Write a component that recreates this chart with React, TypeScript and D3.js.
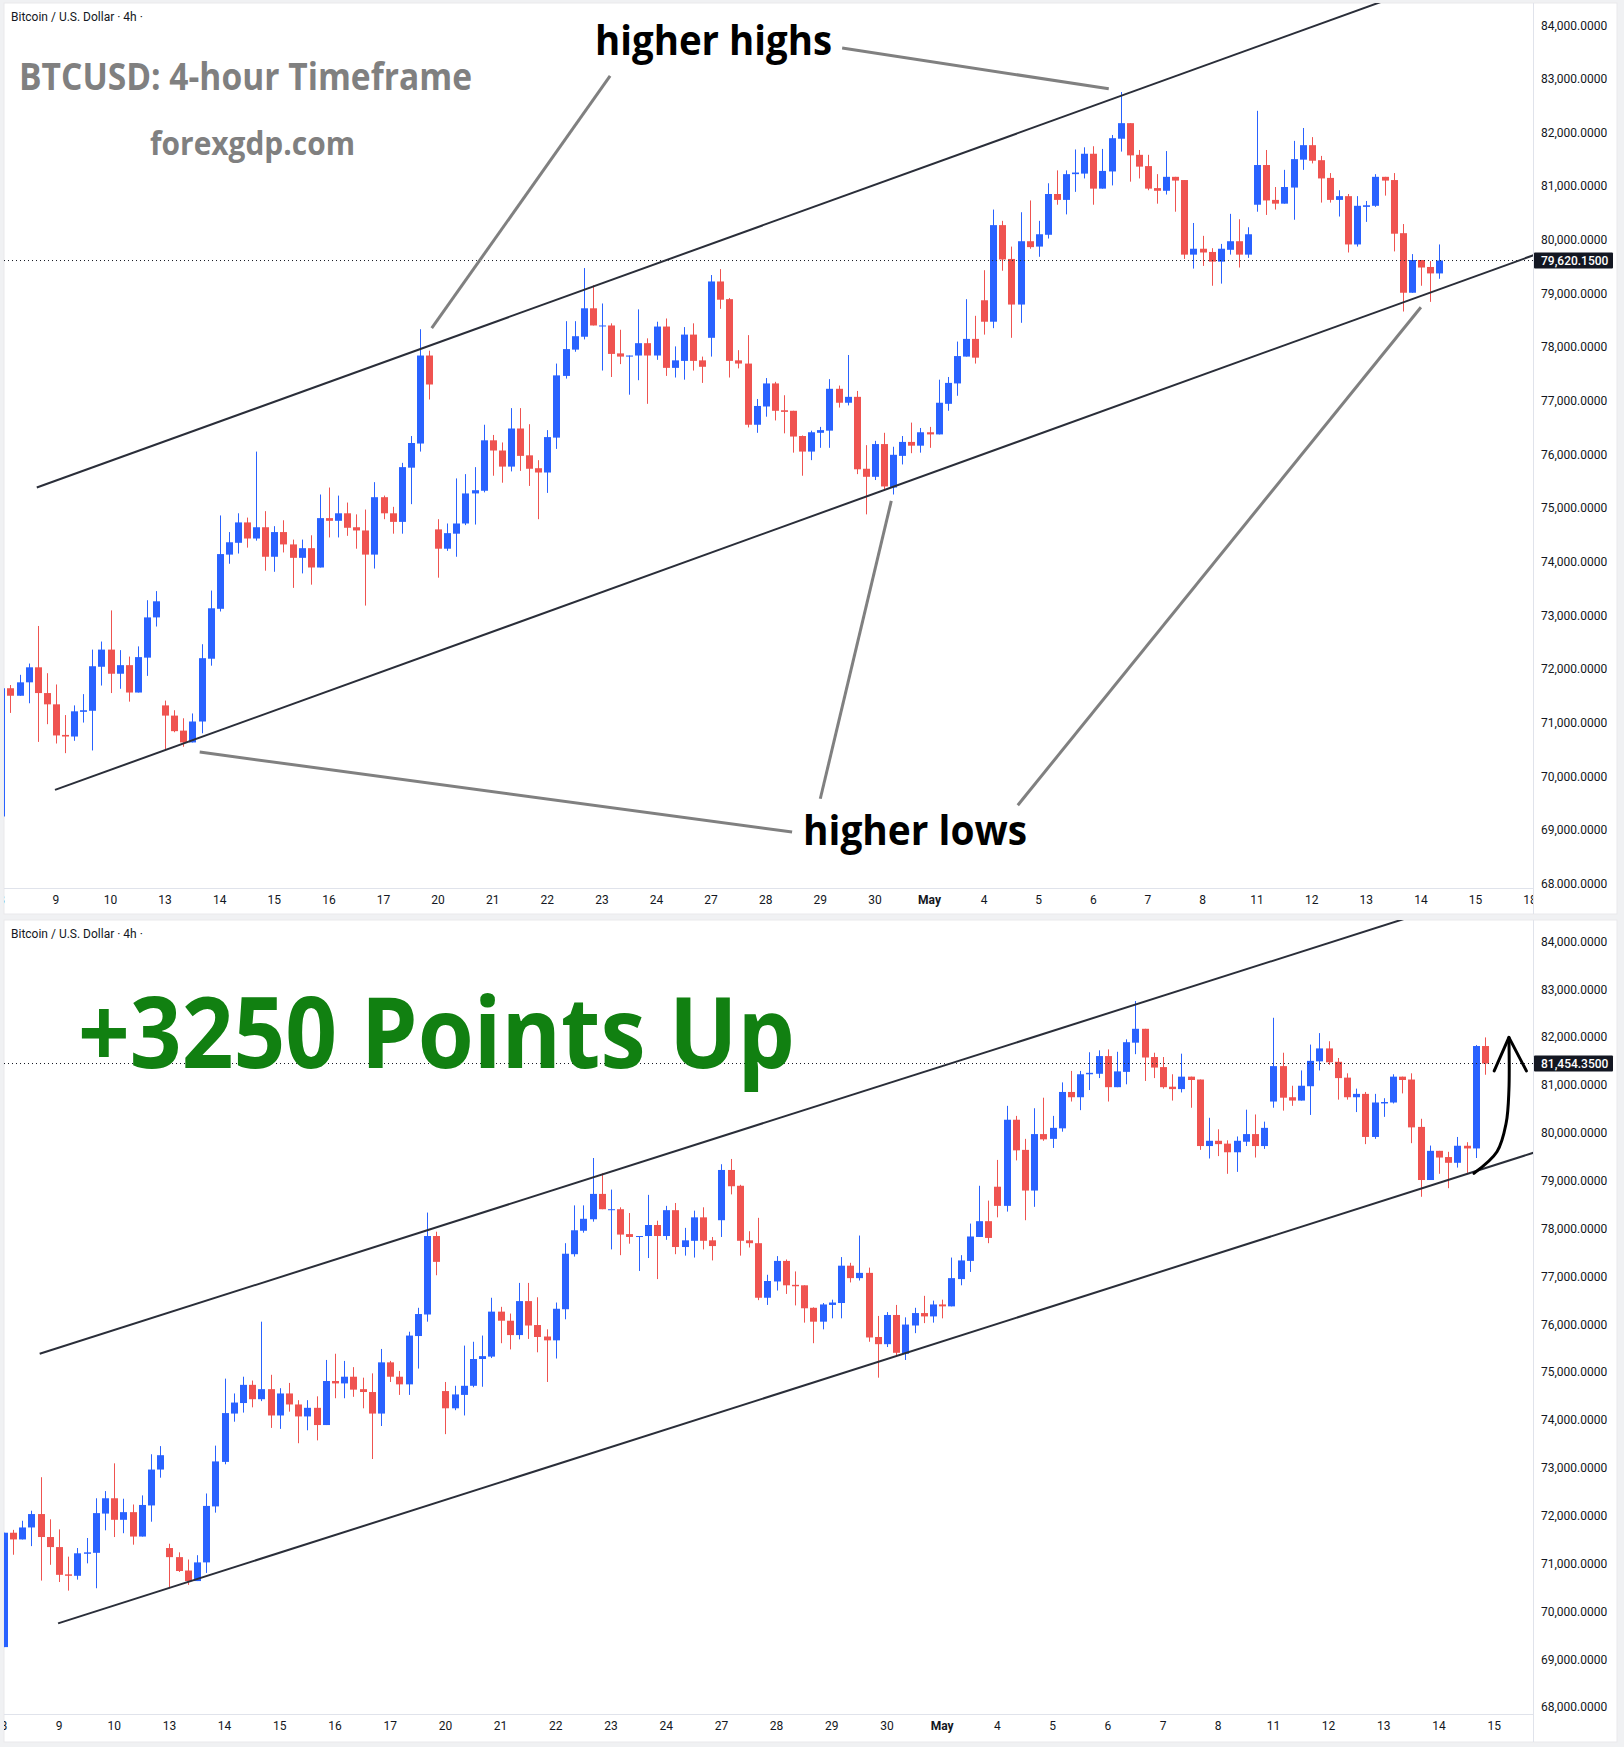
import * as d3 from 'd3';

// day labels on the time axis, one every 6 bars (4h bars)
const DAYS = ['8', '9', '10', '13', '14', '15', '16', '17', '20', '21', '22', '23', '24', '27', '28', '29', '30', 'May', '4', '5', '6', '7', '8', '11', '12', '13', '14', '15', '18'];
const BARS_PER_DAY = 6;

// BTCUSD 4h candles
const OPEN = [
  69260, 71650, 71510, 71760, 72040, 71560, 71350, 70780, 70750, 71210,
  71230, 72050, 72370, 71920, 72080, 71570, 72220, 72970, 71330, 71140,
  70860, 70640, 71030, 72200, 73130, 74140, 74360, 74740, 74440, 74650,
  74100, 74560, 74330, 74080, 74260, 73900, 74820, 74770, 74910, 74650,
  74590, 74140, 75210, 74910, 74750, 75760, 76210, 77850, 74610, 74250,
  74530, 74720, 75280, 75330, 76270, 76080, 75780, 76490, 75990, 75750,
  75670, 76320, 77470, 77960, 78200, 78730, 78400, 78410, 77890, 77830,
  77850, 78080, 77850, 78390, 77620, 77750, 78240, 77760, 78180, 79230,
  78900, 77760, 77700, 76560, 76900, 77330, 76830, 76820, 76350, 76060,
  76410, 76450, 77230, 76970, 77080, 75740, 75590, 76200, 75390, 75980,
  76240, 76170, 76420, 76380, 76950, 77330, 77830, 78160, 78880, 78480,
  80280, 79650, 78800, 79980, 79880, 80100, 80860, 80750, 81230, 81240,
  81610, 80960, 81280, 81890, 82180, 81590, 81380, 80970, 80920, 81180,
  81120, 79730, 79840, 79780, 79600, 79820, 79980, 79730, 80660, 81400,
  80750, 80680, 80980, 81500, 81770, 81490, 81160, 80750, 80820, 79920,
  80620, 80640, 81180, 81120, 80130, 79020, 79630, 79500, 79380, 79736,
  79680, 81820,
];
const HIGH = [
  71650, 71710, 71900, 72110, 72810, 71930, 71720, 71150, 71330, 71540,
  72370, 72520, 73100, 72360, 72240, 72430, 73290, 73460, 71420, 71240,
  71090, 71180, 72470, 73470, 74870, 74560, 74910, 74830, 76060, 74950,
  74670, 74780, 74420, 74420, 74500, 75260, 75390, 75240, 75110, 74890,
  74980, 75490, 75240, 75030, 75850, 76350, 78340, 77940, 74800, 74720,
  75560, 75640, 75770, 76560, 76370, 76230, 76870, 76870, 76570, 75900,
  76460, 77700, 78490, 78490, 79480, 79160, 78820, 78450, 78330, 77850,
  78710, 78170, 78480, 78540, 78020, 78380, 78450, 77830, 79350, 79460,
  78920, 77950, 78230, 77040, 77430, 77360, 77110, 76820, 76360, 76450,
  76520, 77410, 77290, 77860, 77190, 76180, 76260, 76410, 76150, 76350,
  76600, 76500, 76520, 77400, 77450, 78110, 78900, 78590, 79440, 80570,
  80360, 79880, 80520, 80740, 80360, 81060, 81300, 81300, 81690, 81730,
  81750, 81700, 81960, 82760, 82180, 81680, 81590, 81230, 81660, 81180,
  81120, 80320, 80080, 79850, 79930, 80490, 80390, 80240, 82410, 81680,
  80990, 81310, 81850, 82090, 81920, 81570, 81250, 80930, 80860, 80820,
  80730, 81230, 81180, 81250, 80300, 79740, 79630, 79610, 79920, 79810,
  81840, 82000,
];
const LOW = [
  69260, 71190, 71510, 71370, 70650, 70980, 70620, 70440, 70670, 71010,
  70490, 71700, 71560, 71640, 71400, 71570, 71880, 72800, 70490, 70830,
  70560, 70640, 70810, 72070, 73080, 73970, 74160, 74270, 74400, 73840,
  73820, 74180, 73520, 73790, 73580, 73900, 74460, 74460, 74490, 74250,
  73190, 73880, 74800, 74530, 74530, 75080, 76060, 77030, 73710, 74210,
  74100, 74690, 74700, 75300, 75610, 75480, 75690, 75700, 75420, 74800,
  75290, 76110, 77420, 77920, 78150, 78410, 77570, 77450, 77690, 77120,
  77390, 76950, 77770, 77470, 77440, 77400, 77570, 77340, 77830, 78720,
  77440, 77610, 76510, 76410, 76710, 76640, 76400, 76040, 75610, 75900,
  76130, 76130, 76880, 76920, 75640, 74890, 75530, 75330, 75260, 75820,
  76030, 76040, 76130, 76380, 76820, 77100, 77830, 77700, 78240, 78360,
  79430, 78180, 78460, 79840, 79690, 80030, 80660, 80480, 80900, 81150,
  80660, 80960, 81020, 81650, 81090, 81150, 80930, 80680, 80850, 80530,
  79650, 79470, 79520, 79150, 79190, 79730, 79490, 79670, 80530, 80470,
  80570, 80680, 80380, 81310, 81430, 80700, 80700, 80440, 79770, 79880,
  80340, 80620, 80830, 79790, 78670, 79020, 79150, 78850, 79280, 79170,
  79480, 81220,
];
const CLOSE = [
  71650, 71510, 71760, 72040, 71560, 71350, 70770, 70750, 71220, 71240,
  72060, 72370, 71920, 72080, 71570, 72230, 72970, 73270, 71140, 70850,
  70640, 71030, 72210, 73140, 74150, 74370, 74740, 74440, 74650, 74100,
  74560, 74330, 74080, 74260, 73900, 74820, 74770, 74910, 74640, 74590,
  74140, 75210, 74910, 74750, 75770, 76220, 77850, 77310, 74250, 74540,
  74720, 75280, 75340, 76270, 76080, 75780, 76490, 75980, 75740, 75670,
  76330, 77480, 77970, 78210, 78730, 78410, 78410, 77880, 77830, 77850,
  78080, 77850, 78390, 77620, 77760, 78240, 77750, 77640, 79230, 78890,
  77750, 77700, 76560, 76910, 77330, 76820, 76800, 76340, 76060, 76420,
  76460, 77230, 76970, 77080, 75730, 75590, 76200, 75410, 76000, 76240,
  76170, 76420, 76380, 76970, 77340, 77840, 78160, 77810, 78480, 80280,
  79640, 78800, 79980, 79870, 80110, 80860, 80750, 81230, 81260, 81610,
  80960, 81290, 81900, 82180, 81580, 81370, 80960, 80920, 81180, 81110,
  79730, 79840, 79770, 79600, 79840, 79980, 79730, 80110, 81400, 80740,
  80680, 80990, 81510, 81770, 81480, 81150, 80750, 80820, 79920, 80640,
  80650, 81180, 81110, 80120, 79020, 79630, 79490, 79380, 79736, 79680,
  81820, 81454.35,
];

// the upper snapshot was taken while bar 158 was still live
const TOP_BARS = 159;
const TOP_LAST = 79620.15;
const BOTTOM_LAST = 81454.35;

const PRICE_TICKS = [68000, 69000, 70000, 71000, 72000, 73000, 74000, 75000, 76000, 77000, 78000, 79000, 80000, 81000, 82000, 83000, 84000];

// channel lines as [bar index, price] pairs
const CHANNEL_UPPER = [[3.9, 75390], [151.3, 84420]];
const CHANNEL_LOWER = [[5.9, 69755], [167.9, 79690]];

// gray pointer lines in the upper panel
const POINTERS = [
  [[66.9, 83060], [47.3, 78360]],
  [[92.4, 83580], [121.7, 82820]],
  [[86.9, 68970], [21.8, 70460]],
  [[90.0, 69590], [97.8, 75140]],
  [[111.7, 69470], [156.0, 78750]],
];

// hand drawn arrow in the lower panel
const ARROW_STEM = [[159.8, 79160], [162.3, 79610], [163.3, 80210], [163.6, 80900], [163.6, 82000]];
const ARROW_HEAD = [[162.0, 81300], [163.6, 82000], [165.5, 81300]];

const BLUE = '#2962ff';
const RED = '#ef5350';
const TEXT = '#131722';
const AXIS_LINE = '#e0e3eb';
const PLOT_LEFT = 4;
const PLOT_RIGHT = 1533;
const fmt = d3.format(',.4f');

interface PanelSpec {
  id: string;
  top: number;
  bottom: number;
  axisY: number;
  yRange: [number, number];
  x0: number;
  step: number;
  n: number;
  last: number;
}

const PANELS: PanelSpec[] = [
  { id: 'a', top: 3, bottom: 914, axisY: 888, yRange: [884.1, 25.5], x0: 1.3, step: 9.1, n: TOP_BARS, last: TOP_LAST },
  { id: 'b', top: 920, bottom: 1742, axisY: 1714, yRange: [1707.4, 941.7], x0: 3.8, step: 9.2, n: OPEN.length, last: BOTTOM_LAST },
];

function Panel({ p, children }: { p: PanelSpec; children?: (x: any, y: any) => any }) {
  const x = d3.scaleLinear().domain([0, 1]).range([p.x0, p.x0 + p.step]);
  const y = d3.scaleLinear().domain([68000, 84000]).range(p.yRange);
  const line = d3.line<number[]>().x((d) => x(d[0])).y((d) => y(d[1]));

  const ray = (pts: number[][]) => {
    const m = (pts[1][1] - pts[0][1]) / (pts[1][0] - pts[0][0]);
    const end = 200;
    return line([pts[0], [end, pts[0][1] + m * (end - pts[0][0])]]);
  };

  const lastY = y(p.last);

  return (
    <g>
      <rect x={PLOT_LEFT} y={p.top} width={1617 - PLOT_LEFT} height={p.bottom - p.top} fill="#fff" stroke="#e9e9ec" />
      <defs>
        <clipPath id={`plot-${p.id}`}>
          <rect x={PLOT_LEFT} y={p.top} width={PLOT_RIGHT - PLOT_LEFT} height={p.axisY - p.top} />
        </clipPath>
        <clipPath id={`time-${p.id}`}>
          <rect x={PLOT_LEFT} y={p.axisY} width={PLOT_RIGHT - PLOT_LEFT} height={p.bottom - p.axisY} />
        </clipPath>
        <clipPath id={`price-${p.id}`}>
          <rect x={PLOT_RIGHT} y={p.top} width={1617 - PLOT_RIGHT} height={p.axisY - p.top} />
        </clipPath>
      </defs>

      <g clipPath={`url(#plot-${p.id})`}>
        {d3.range(p.n).map((i) => {
          const o = OPEN[i];
          const c = i === p.n - 1 ? p.last : CLOSE[i];
          const h = Math.max(HIGH[i], o, c);
          const l = Math.min(LOW[i], o, c);
          const col = c >= o ? BLUE : RED;
          const cx = Math.round(x(i));
          const yt = y(Math.max(o, c));
          const yb = y(Math.min(o, c));
          return (
            <g key={i}>
              <line x1={cx + 0.5} x2={cx + 0.5} y1={y(h)} y2={y(l)} stroke={col} strokeWidth={1} />
              <rect x={cx - 3} y={yt} width={7} height={Math.max(1, yb - yt)} fill={col} />
            </g>
          );
        })}

        <line x1={PLOT_LEFT} x2={PLOT_RIGHT} y1={lastY} y2={lastY} stroke={TEXT} strokeWidth={1} strokeDasharray="1 3" />

        <path d={ray(CHANNEL_UPPER) ?? ''} stroke="#2a2e39" strokeWidth={2} fill="none" />
        <path d={ray(CHANNEL_LOWER) ?? ''} stroke="#2a2e39" strokeWidth={2} fill="none" />

        {children && children(x, y)}
      </g>

      {/* axes */}
      <line x1={PLOT_LEFT} x2={PLOT_RIGHT} y1={p.axisY + 0.5} y2={p.axisY + 0.5} stroke={AXIS_LINE} />
      <line x1={PLOT_RIGHT + 0.5} x2={PLOT_RIGHT + 0.5} y1={p.top} y2={p.bottom} stroke={AXIS_LINE} />

      <g clipPath={`url(#time-${p.id})`} fontFamily="Roboto, sans-serif" fontSize={12} fill={TEXT} textAnchor="middle">
        {DAYS.map((d, k) => (
          <text key={k} x={x(k * BARS_PER_DAY)} y={p.axisY + 16} fontWeight={d === 'May' ? 700 : 400}>
            {d}
          </text>
        ))}
      </g>

      <g clipPath={`url(#price-${p.id})`} fontFamily="Roboto, sans-serif" fontSize={12} fill={TEXT}>
        {PRICE_TICKS.map((t) => (
          <text key={t} x={1541} y={y(t) + 4}>
            {fmt(t)}
          </text>
        ))}
        <rect x={PLOT_RIGHT + 1} y={lastY - 8} width={79} height={16} rx={1} fill={TEXT} />
        <text x={1541} y={lastY + 4} fill="#fff" fontWeight={500}>
          {fmt(p.last)}
        </text>
      </g>

      <text x={11} y={p.top + 18} fontFamily="Roboto, sans-serif" fontSize={12} fill={TEXT}>
        Bitcoin / U.S. Dollar · 4h ·
      </text>
    </g>
  );
}

export default function App() {
  return (
    <div style={{ position: 'absolute', left: 0, top: 0 }}>
      <svg width={1624} height={1747} style={{ display: 'block' }}>
        <rect width={1624} height={1747} fill="#f0f1f3" />

        <Panel p={PANELS[0]}>
          {(x, y) => {
            const line = d3.line<number[]>().x((d) => x(d[0])).y((d) => y(d[1]));
            return (
              <g>
                {POINTERS.map((pts, i) => (
                  <path key={i} d={line(pts) ?? ''} stroke="#808080" strokeWidth={3} fill="none" />
                ))}
              </g>
            );
          }}
        </Panel>

        <Panel p={PANELS[1]}>
          {(x, y) => {
            const stem = d3.line<number[]>().x((d) => x(d[0])).y((d) => y(d[1])).curve(d3.curveCatmullRom);
            const head = d3.line<number[]>().x((d) => x(d[0])).y((d) => y(d[1]));
            return (
              <g stroke="#000" strokeWidth={3} fill="none" strokeLinecap="round" strokeLinejoin="round">
                <path d={stem(ARROW_STEM) ?? ''} />
                <path d={head(ARROW_HEAD) ?? ''} />
              </g>
            );
          }}
        </Panel>

        {/* annotations */}
        <g fontFamily="'Open Sans', sans-serif" fontWeight={700}>
          <text x={19} y={90} fontSize={38} fill="#808080" textLength={453} lengthAdjust="spacingAndGlyphs">
            BTCUSD: 4-hour Timeframe
          </text>
          <text x={150} y={155} fontSize={32} fill="#808080" textLength={205} lengthAdjust="spacingAndGlyphs">
            forexgdp.com
          </text>
          <text x={595} y={55} fontSize={42} fill="#000" textLength={237} lengthAdjust="spacingAndGlyphs">
            higher highs
          </text>
          <text x={803} y={845} fontSize={42} fill="#000" textLength={224} lengthAdjust="spacingAndGlyphs">
            higher lows
          </text>
          <text x={78} y={1068} fontSize={98} fill="#118011" textLength={717} lengthAdjust="spacingAndGlyphs">
            +3250 Points Up
          </text>
        </g>
      </svg>
    </div>
  );
}
